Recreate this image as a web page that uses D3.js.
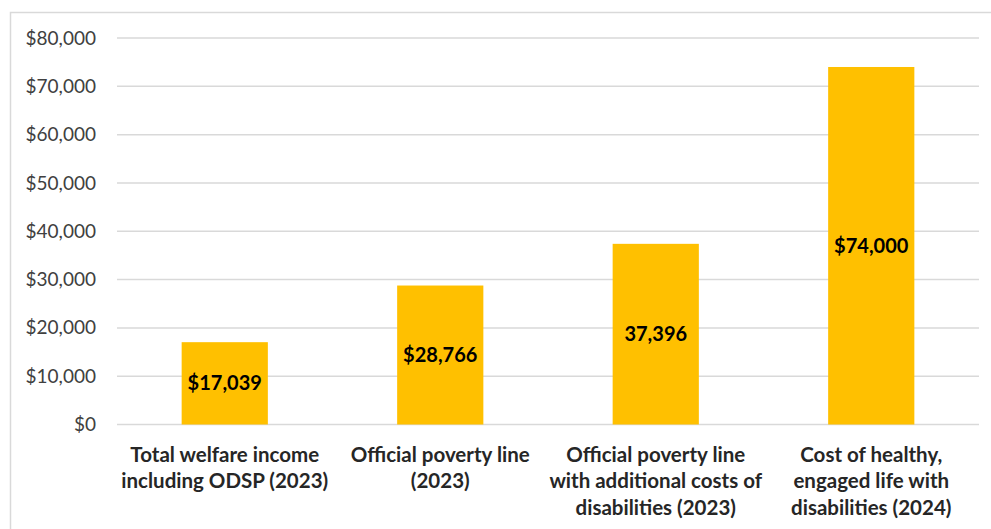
<!DOCTYPE html>
<html>
<head>
<meta charset="utf-8">
<script src="https://cdn.jsdelivr.net/npm/d3@7"></script>
<style>
  body { margin: 0; background: #fff; }
  svg { display: block; font-family: Lato, sans-serif; }
</style>
</head>
<body>
<svg id="chart"></svg>
<script>
const categories = [
    ["Total welfare income", "including ODSP (2023)"],
    ["Official poverty line", "(2023)"],
    ["Official poverty line", "with additional costs of", "disabilities (2023)"],
    ["Cost of healthy,", "engaged life with", "disabilities (2024)"]
];
const values = [17039, 28766, 37396, 74000];
const valueLabels = ["$17,039", "$28,766", "37,396", "$74,000"];
const yTicks = [0, 10000, 20000, 30000, 40000, 50000, 60000, 70000, 80000];

const width = 991, height = 529;
const margin = { top: 38, right: 12, bottom: 104.5, left: 117 };

const svg = d3.select('#chart')
    .attr('width', width)
    .attr('height', height);

// chart frame (runs off the right and bottom edge like the source)
svg.append('rect')
    .attr('x', 10.5).attr('y', 12.5)
    .attr('width', width + 20).attr('height', height + 20)
    .attr('fill', 'none')
    .attr('stroke', '#d9d9d9')
    .attr('stroke-width', 1.5);

const xScale = d3.scaleBand()
    .domain(d3.range(categories.length))
    .range([margin.left, width - margin.right])
    .paddingInner(0.6)
    .paddingOuter(0.3);

const yScale = d3.scaleLinear()
    .domain([0, 80000])
    .range([height - margin.bottom, margin.top]);

// gridlines
svg.append('g')
    .selectAll('line')
    .data(yTicks)
    .enter()
    .append('line')
    .attr('x1', margin.left)
    .attr('x2', width - margin.right)
    .attr('y1', d => yScale(d))
    .attr('y2', d => yScale(d))
    .attr('stroke', '#d9d9d9')
    .attr('stroke-width', 1.5);

// y axis labels
const yAxis = svg.append('g')
    .attr('transform', `translate(${margin.left - 21},0)`)
    .call(d3.axisLeft(yScale)
        .tickValues(yTicks)
        .tickSize(0)
        .tickPadding(0)
        .tickFormat(d => '$' + d3.format(',')(d)));
yAxis.select('.domain').remove();
yAxis.selectAll('text')
    .style('font-family', 'Lato, sans-serif')
    .style('font-size', '19px')
    .attr('fill', '#404040');

// bars
svg.selectAll('.bar')
    .data(values)
    .enter()
    .append('rect')
    .attr('class', 'bar')
    .attr('x', (d, i) => xScale(i))
    .attr('y', d => yScale(d))
    .attr('width', xScale.bandwidth())
    .attr('height', d => yScale(0) - yScale(d))
    .attr('fill', '#ffc000');

// value labels
svg.selectAll('.value')
    .data(values)
    .enter()
    .append('text')
    .attr('class', 'value')
    .attr('x', (d, i) => xScale(i) + xScale.bandwidth() / 2)
    .attr('y', d => (yScale(d) + yScale(0)) / 2)
    .attr('dy', '0.35em')
    .attr('text-anchor', 'middle')
    .style('font-size', '20px')
    .style('font-weight', 'bold')
    .attr('fill', '#000')
    .text((d, i) => valueLabels[i]);

// category labels
const cat = svg.selectAll('.cat')
    .data(categories)
    .enter()
    .append('text')
    .attr('class', 'cat')
    .attr('text-anchor', 'middle')
    .style('font-size', '20.5px')
    .style('font-weight', 'bold')
    .attr('fill', '#262626');
cat.selectAll('tspan')
    .data((d, i) => d.map(line => ({ line, i })))
    .enter()
    .append('tspan')
    .attr('x', d => xScale(d.i) + xScale.bandwidth() / 2)
    .attr('y', (d, j) => yScale(0) + 30 + j * 26.5)
    .attr('dy', '0.35em')
    .text(d => d.line);
</script>
</body>
</html>
